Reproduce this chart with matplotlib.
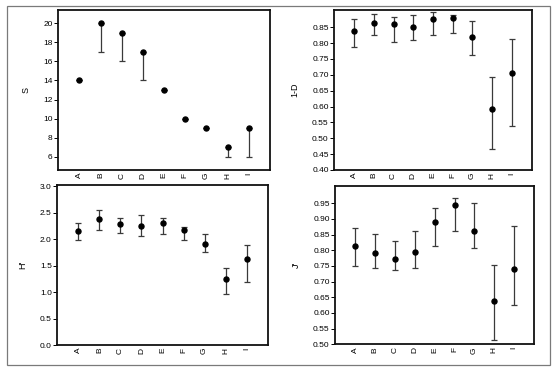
import matplotlib
matplotlib.use('Agg')
import matplotlib.pyplot as plt
import numpy as np
from matplotlib.patches import Rectangle

plt.rcParams['font.family'] = ['Liberation Sans', 'DejaVu Sans']

# categories shared by the four panels
sites = ['A', 'B', 'C', 'D', 'E', 'F', 'G', 'H', 'I']

# S (species richness): point, lower end of bar, upper end of bar
s_val = [14, 20, 19, 17, 13, 10, 9, 7, 9]
s_low = [14, 17, 16, 14, 13, 10, 9, 6, 6]
s_up  = [14, 20, 19, 17, 13, 10, 9, 7, 9]

# 1-D (Simpson)
d_val = [0.837, 0.864, 0.860, 0.850, 0.876, 0.880, 0.820, 0.592, 0.705]
d_low = [0.787, 0.826, 0.802, 0.810, 0.826, 0.833, 0.761, 0.465, 0.540]
d_up  = [0.875, 0.893, 0.882, 0.887, 0.899, 0.887, 0.868, 0.692, 0.812]

# H' (Shannon)
h_val = [2.145, 2.38, 2.28, 2.245, 2.295, 2.175, 1.90, 1.24, 1.62]
h_low = [1.975, 2.18, 2.12, 2.06, 2.09, 1.99, 1.755, 0.97, 1.195]
h_up  = [2.30, 2.55, 2.40, 2.45, 2.40, 2.23, 2.094, 1.46, 1.88]

# J' (Pielou evenness)
j_val = [0.813, 0.792, 0.771, 0.794, 0.891, 0.943, 0.863, 0.637, 0.741]
j_low = [0.750, 0.742, 0.737, 0.742, 0.812, 0.863, 0.807, 0.513, 0.626]
j_up  = [0.870, 0.853, 0.830, 0.862, 0.935, 0.966, 0.950, 0.752, 0.878]

W, H = 558, 370
fig = plt.figure(figsize=(W / 100.0, H / 100.0), dpi=100)

# outer gray frame
fig.patches.append(Rectangle((6.5 / W, 1 - 365.0 / H), 543.0 / W, 359.0 / H,
                             transform=fig.transFigure, fill=False,
                             edgecolor='#7a7a7a', linewidth=0.9))


def panel(box, val, low, up, ylim, ticks, fmt, ylabel):
    ax = fig.add_axes(box)
    x = np.arange(len(sites))
    val = np.array(val)
    yerr = [val - np.array(low), np.array(up) - val]
    ax.errorbar(x, val, yerr=yerr, fmt='o', color='black', markersize=3.6,
                ecolor='#3a3a3a', elinewidth=0.9, capsize=2.5, capthick=0.9)
    ax.set_xlim(-1, 9)
    ax.set_ylim(*ylim)
    ax.set_xticks(x)
    ax.set_xticklabels(sites, rotation=90, fontsize=6)
    ax.set_yticks(ticks)
    ax.set_yticklabels([fmt % t for t in ticks], fontsize=6)
    ax.tick_params(axis='x', length=0, pad=2)
    ax.tick_params(axis='y', length=3, width=0.7, pad=1)
    for sp in ax.spines.values():
        sp.set_linewidth(1.3)
        sp.set_color('#111111')
    ax.set_ylabel(ylabel, fontsize=6.5, labelpad=9)
    return ax


panel([58.3 / W, 1 - 170.0 / H, 211.7 / W, 160.0 / H], s_val, s_low, s_up,
      (4.6, 21.4), list(range(6, 21, 2)), '%d', 'S')
panel([334.3 / W, 1 - 170.0 / H, 197.4 / W, 160.3 / H], d_val, d_low, d_up,
      (0.40, 0.905), list(np.arange(0.40, 0.851, 0.05)), '%.2f', '1-D')
panel([57.3 / W, 1 - 345.0 / H, 210.4 / W, 160.0 / H], h_val, h_low, h_up,
      (0.0, 3.02), list(np.arange(0.0, 3.01, 0.5)), '%.1f', "H'")
panel([335.3 / W, 1 - 344.3 / H, 198.7 / W, 158.3 / H], j_val, j_low, j_up,
      (0.50, 1.005), list(np.arange(0.50, 0.951, 0.05)), '%.2f', "J'")

fig.savefig('out.png', dpi=100)
